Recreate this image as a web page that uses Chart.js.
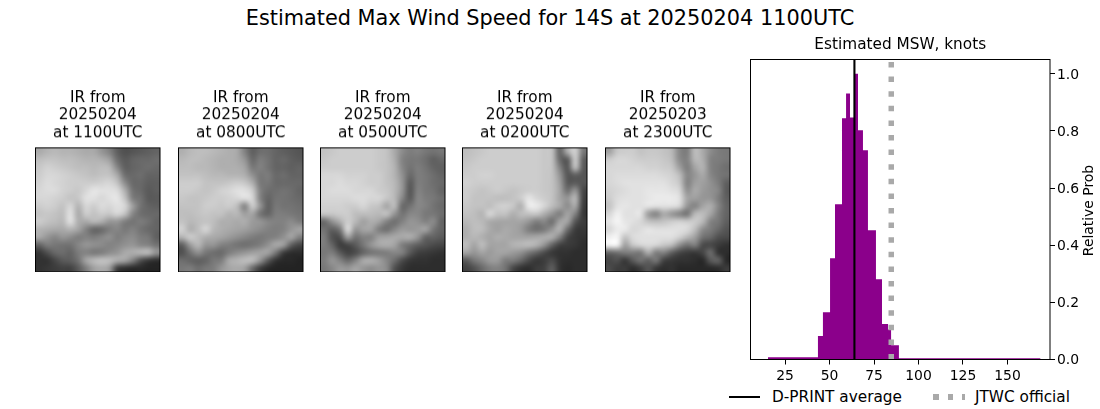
<!DOCTYPE html>
<html>
<head>
<meta charset="utf-8">
<title>Estimated Max Wind Speed for 14S</title>
<script src="https://cdn.jsdelivr.net/npm/chart.js@4/dist/chart.umd.min.js"></script>
<style>
  html, body { margin: 0; padding: 0; background: #fff; overflow: hidden; }
  body { width: 1100px; height: 409px; position: relative; font-family: "DejaVu Sans", sans-serif; color: #000; }
  canvas { position: absolute; }
  #suptitle { position: absolute; left: 0; width: 1100px; top: 6px; line-height: 24px; text-align: center; font-size: 20.83px; white-space: nowrap; }
  .leyenda-texto { position: absolute; top: 388px; line-height: 18px; font-size: 15.3px; white-space: nowrap; }
  .leyenda-linea { position: absolute; top: 396px; width: 31px; height: 2px; background: #000; }
  .leyenda-puntos { position: absolute; top: 394px; width: 32px; height: 5.5px; background: repeating-linear-gradient(90deg, #a9a9a9 0, #a9a9a9 5.5px, transparent 5.5px, transparent 14.6px); }
</style>
</head>
<body>
<div id="suptitle">Estimated Max Wind Speed for 14S at 20250204 1100UTC</div>
<div class="leyenda-linea" style="left:729px"></div>
<div class="leyenda-texto" style="left:772px">D-PRINT average</div>
<div class="leyenda-puntos" style="left:933px"></div>
<div class="leyenda-texto" style="left:975px">JTWC official</div>

<script>
// Histograma: bordes de cada barra (nudos) y su probabilidad relativa
const binEdges = [15.4, 43.5, 46.3, 50.3, 53.1, 57, 59.3, 61.5, 64.3, 66, 68.8, 71.6, 76.1, 79.5, 82.9, 84.6, 89, 168.6];
const binProbs = [0.008, 0.082, 0.165, 0.354, 0.543, 0.844, 0.931, 0.847, 1.0, 0.802, 0.732, 0.452, 0.281, 0.124, 0.105, 0.05, 0.004];

const dprintAverage = 64;
const jtwcOfficial = 84.7;

// Titulos de los paneles IR
const irDates = ["20250204", "20250204", "20250204", "20250204", "20250203"];
const irTimes = ["1100UTC", "0800UTC", "0500UTC", "0200UTC", "2300UTC"];

const ir1100 = [
  170,180,185,180,180,175,170,170,150,130,95,80,85,90,95,100,
  190,195,195,190,190,185,180,180,175,160,110,90,100,105,105,110,
  200,210,205,200,195,190,190,185,190,185,135,95,100,105,110,105,
  205,215,215,210,205,200,195,190,195,195,170,110,105,110,100,100,
  210,220,215,210,205,205,205,205,210,215,195,140,105,105,95,95,
  215,220,220,210,205,200,215,230,225,225,220,175,115,105,90,95,
  215,215,210,205,195,200,225,225,215,225,230,195,125,115,90,90,
  205,210,205,195,215,180,215,205,220,215,225,215,160,115,100,95,
  195,200,195,190,225,170,205,195,205,200,215,195,135,110,105,105,
  205,195,190,185,225,175,170,185,175,150,150,125,115,125,115,100,
  180,175,170,170,180,165,130,100,105,125,135,120,130,115,105,100,
  170,150,135,150,140,125,130,125,135,145,125,135,140,125,120,95,
  100,125,120,115,115,135,150,145,140,130,135,145,150,135,130,115,
  55,80,105,110,100,125,130,120,125,140,150,170,175,185,190,150,
  50,50,70,90,95,115,165,185,195,190,175,165,130,80,55,45,
  50,55,60,65,65,90,125,160,170,155,60,45,40,40,35,35
];
const ir0800 = [
  175,185,190,190,185,180,175,170,130,95,110,110,100,95,90,85,
  185,190,190,185,180,175,175,170,150,105,125,115,100,105,95,90,
  190,190,185,185,180,175,175,175,165,120,130,115,100,100,95,100,
  195,195,195,190,185,185,180,180,175,145,120,125,105,110,100,100,
  205,205,205,195,195,195,200,205,200,175,120,120,105,105,105,105,
  205,205,200,195,200,210,215,225,225,205,130,110,110,115,110,100,
  200,195,195,200,205,205,210,215,225,215,130,100,115,115,110,105,
  195,195,195,205,205,200,205,190,130,205,150,95,120,115,115,110,
  190,190,195,200,195,195,180,185,160,165,115,100,125,125,120,115,
  195,185,190,195,190,175,175,170,175,155,150,135,130,130,140,125,
  210,175,190,215,185,175,170,165,160,150,140,130,125,130,150,165,
  180,205,190,175,170,165,155,145,135,125,120,125,130,145,165,130,
  95,155,185,150,150,130,125,115,110,115,125,145,170,160,95,70,
  80,115,145,120,110,105,125,140,150,160,165,165,120,60,45,45,
  110,100,95,100,120,125,170,180,190,190,150,90,50,40,40,35,
  120,125,110,120,125,150,165,170,160,105,60,40,35,35,35,35
];
const ir0500 = [
  195,200,205,205,205,205,205,200,195,170,140,125,130,120,115,120,
  200,205,205,205,205,205,205,200,195,175,130,120,120,110,95,105,
  205,205,205,205,205,205,205,200,195,180,135,115,125,115,100,95,
  215,215,215,210,210,210,205,205,195,180,145,105,125,120,110,100,
  215,215,220,215,215,210,205,205,195,185,150,90,125,120,110,105,
  215,220,220,220,215,215,215,205,200,185,150,85,130,120,115,100,
  215,215,215,215,220,220,215,215,200,185,135,90,135,125,120,110,
  210,210,210,205,205,215,200,195,165,190,105,115,135,130,115,105,
  200,200,205,205,190,190,190,185,195,150,115,135,135,120,120,110,
  105,145,175,205,185,160,175,165,130,110,130,150,145,130,140,100,
  115,95,120,220,150,165,165,125,110,135,155,150,155,165,120,100,
  125,80,80,160,115,130,130,160,165,170,170,175,150,100,100,90,
  125,100,60,70,90,120,150,170,175,165,125,110,95,85,75,70,
  120,125,90,65,75,100,115,120,125,135,130,90,65,60,55,50,
  125,150,130,105,130,170,175,160,135,110,75,55,50,50,45,45,
  120,135,155,150,165,150,140,150,140,80,55,45,45,45,45,45
];
const ir0200 = [
  190,195,200,205,205,205,205,205,205,205,200,195,100,175,210,120,
  195,200,205,205,205,205,205,205,205,205,200,195,105,90,205,95,
  200,205,205,205,205,205,205,205,205,205,200,195,130,85,195,90,
  205,205,210,210,205,205,205,205,205,205,200,195,150,85,95,85,
  210,205,205,205,205,205,205,205,205,205,200,195,160,90,90,85,
  205,200,195,200,205,200,195,200,205,205,200,195,165,110,150,70,
  205,195,195,195,190,190,195,205,230,215,205,195,165,150,185,65,
  200,195,195,190,205,210,200,175,235,235,215,190,170,140,170,60,
  195,190,180,215,195,195,175,190,195,200,175,150,125,165,130,55,
  185,190,185,170,165,165,165,165,150,125,135,110,165,165,85,60,
  175,190,190,170,160,170,165,155,125,110,120,150,180,110,60,55,
  175,185,175,165,175,170,165,165,165,170,175,175,130,70,55,50,
  190,165,190,165,165,165,180,185,190,180,150,100,65,60,55,45,
  165,150,165,155,165,165,155,145,120,100,75,55,50,50,45,45,
  90,120,135,155,155,125,125,105,75,55,60,75,50,45,45,45,
  65,80,105,125,130,115,70,50,45,60,65,95,50,40,45,45
];
const ir2300 = [
  160,200,205,205,195,200,200,195,185,135,125,190,170,140,125,120,
  205,215,215,210,205,205,205,200,190,140,130,185,175,130,125,120,
  215,215,215,215,215,210,210,205,200,160,125,165,180,130,120,110,
  215,220,220,220,220,220,220,215,210,190,135,150,170,135,120,115,
  215,220,225,225,225,225,225,225,215,200,130,160,160,145,125,95,
  210,215,220,225,225,230,230,230,225,215,145,170,155,145,135,90,
  205,220,225,225,225,230,235,235,235,225,165,160,150,150,125,95,
  195,225,230,225,225,230,225,225,225,215,150,130,165,175,135,100,
  215,240,225,225,230,155,130,170,150,130,115,185,190,165,125,100,
  230,245,230,225,215,195,190,195,205,210,205,205,185,130,120,95,
  215,235,235,215,220,230,225,225,225,225,220,190,140,125,105,85,
  240,245,195,220,225,225,225,225,225,210,185,160,115,105,80,75,
  245,245,160,200,215,220,215,200,190,145,115,130,75,70,60,50,
  100,110,125,125,120,175,125,130,95,70,60,55,70,110,50,45,
  70,80,55,90,115,95,120,65,55,50,50,45,40,90,100,40,
  75,60,60,45,60,85,55,45,50,40,40,40,40,40,45,60
];
const irPanels = [ir1100, ir0800, ir0500, ir0200, ir2300];
const irCells = 16;

const fuente = "DejaVu Sans";
Chart.defaults.font.family = fuente;
Chart.defaults.color = "#000";
Chart.defaults.devicePixelRatio = 1;

function crearCanvas(left, top, width, height) {
  const canvas = document.createElement("canvas");
  canvas.width = width;
  canvas.height = height;
  canvas.style.left = left + "px";
  canvas.style.top = top + "px";
  canvas.style.width = width + "px";
  canvas.style.height = height + "px";
  document.body.appendChild(canvas);
  return canvas;
}

// Marco negro alrededor de los ejes, como en matplotlib
const marcoEjes = {
  id: "marcoEjes",
  afterDatasetsDraw(chart) {
    const { ctx, chartArea } = chart;
    ctx.save();
    ctx.strokeStyle = "#000";
    ctx.lineWidth = 1;
    ctx.strokeRect(chartArea.left, chartArea.top, chartArea.right - chartArea.left, chartArea.bottom - chartArea.top);
    ctx.restore();
  },
};

// Pinta la matriz de grises suavizada dentro de los ejes del panel
const imagenIR = {
  id: "imagenIR",
  beforeDatasetsDraw(chart, args, opts) {
    const { ctx, scales } = chart;
    const off = document.createElement("canvas");
    off.width = irCells;
    off.height = irCells;
    const offCtx = off.getContext("2d");
    const img = offCtx.createImageData(irCells, irCells);
    opts.valores.forEach((v, i) => {
      img.data[i * 4] = v;
      img.data[i * 4 + 1] = v;
      img.data[i * 4 + 2] = v;
      img.data[i * 4 + 3] = 255;
    });
    offCtx.putImageData(img, 0, 0);
    const x0 = scales.x.getPixelForValue(0);
    const x1 = scales.x.getPixelForValue(irCells);
    const y0 = scales.y.getPixelForValue(0);
    const y1 = scales.y.getPixelForValue(irCells);
    ctx.save();
    ctx.imageSmoothingEnabled = true;
    ctx.imageSmoothingQuality = "high";
    ctx.drawImage(off, x0, y0, x1 - x0, y1 - y0);
    ctx.restore();
  },
};

const panelLefts = [35.5, 178, 320.5, 462.5, 605];
irPanels.forEach((valores, i) => {
  const canvas = crearCanvas(Math.floor(panelLefts[i]) - 15, 85, 155, 186.5);
  new Chart(canvas, {
    type: "scatter",
    data: { datasets: [{ data: [] }] },
    plugins: [imagenIR, marcoEjes],
    options: {
      responsive: false,
      animation: false,
      layout: { padding: { left: 15.5, right: 15, top: 0, bottom: 0 } },
      scales: {
        x: { display: false, min: 0, max: irCells },
        y: { display: false, min: 0, max: irCells, reverse: true },
      },
      plugins: {
        legend: { display: false },
        tooltip: { enabled: false },
        imagenIR: { valores: valores },
        title: {
          display: true,
          text: ["IR from", irDates[i], "at " + irTimes[i]],
          font: { size: 15.3, weight: "normal", lineHeight: 1.144 },
          padding: { top: 4, bottom: 6 },
        },
      },
    },
  });
});

// Etiqueta del eje derecho, se lee de abajo hacia arriba
const etiquetaProb = {
  id: "etiquetaProb",
  afterDraw(chart) {
    const { ctx, chartArea } = chart;
    ctx.save();
    ctx.translate(chartArea.right + 39, (chartArea.top + chartArea.bottom) / 2 + 1);
    ctx.rotate(-Math.PI / 2);
    ctx.font = "13.9px '" + fuente + "'";
    ctx.fillStyle = "#000";
    ctx.textAlign = "center";
    ctx.textBaseline = "middle";
    ctx.fillText("Relative Prob", 0, 0);
    ctx.restore();
  },
};

const histCanvas = crearCanvas(700, 0, 400, 409);
const xMin = 5.6;
const xMax = 173.9;
const yMax = 1.05;

new Chart(histCanvas, {
  type: "line",
  data: {
    datasets: [
      {
        label: "Histogram",
        data: binEdges.map((x, i) => ({ x: x, y: i < binProbs.length ? binProbs[i] : 0 })),
        stepped: true,
        fill: "origin",
        backgroundColor: "#8b008b",
        borderWidth: 0,
        pointRadius: 0,
        order: 3,
      },
      {
        label: "D-PRINT average",
        data: [{ x: dprintAverage, y: 0 }, { x: dprintAverage, y: yMax }],
        borderColor: "#000",
        borderWidth: 2.08,
        pointRadius: 0,
        order: 2,
      },
      {
        label: "JTWC official",
        data: [{ x: jtwcOfficial, y: 0 }, { x: jtwcOfficial, y: yMax }],
        borderColor: "#a9a9a9",
        borderWidth: 5.5,
        borderDash: [5.5, 9.1],
        pointRadius: 0,
        order: 1,
      },
    ],
  },
  plugins: [marcoEjes, etiquetaProb],
  options: {
    responsive: false,
    animation: false,
    layout: { padding: { left: 50.5, right: 0, top: 0, bottom: 0 } },
    scales: {
      x: {
        type: "linear",
        min: xMin,
        max: xMax,
        afterFit(scale) { scale.height = 49.5; },
        grid: { drawOnChartArea: false, drawTicks: true, tickLength: 5, tickColor: "#000", tickWidth: 1 },
        border: { display: false },
        ticks: {
          stepSize: 25,
          includeBounds: false,
          autoSkip: false,
          maxRotation: 0,
          padding: 4,
          font: { size: 13.9 },
        },
      },
      y: {
        position: "right",
        min: 0,
        max: yMax,
        afterFit(scale) { scale.width = 50; },
        grid: { drawOnChartArea: false, drawTicks: true, tickLength: 5, tickColor: "#000", tickWidth: 1 },
        border: { display: false },
        ticks: {
          stepSize: 0.2,
          includeBounds: false,
          autoSkip: false,
          padding: 2,
          // Linea vacia delante para bajar la etiqueta 1.4px, como en el original
          font: { size: 13.9, lineHeight: 0.2 },
          callback: (value) => ["", value.toFixed(1)],
        },
      },
    },
    plugins: {
      legend: { display: false },
      tooltip: { enabled: false },
      title: {
        display: true,
        // fullSize false: centrado sobre los ejes y no sobre todo el canvas
        fullSize: false,
        text: "Estimated MSW, knots",
        font: { size: 15.3, weight: "normal", lineHeight: 1.2 },
        padding: { top: 35.8, bottom: 5.34 },
      },
    },
  },
});
</script>
</body>
</html>
